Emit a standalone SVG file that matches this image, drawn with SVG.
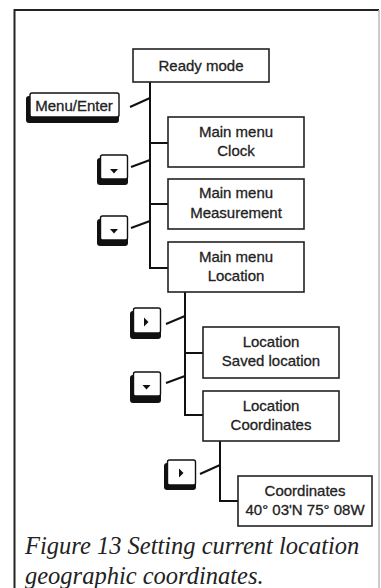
<svg xmlns="http://www.w3.org/2000/svg" width="381" height="588" viewBox="0 0 381 588">
<defs>
<style>
.box{fill:#fff;stroke:#222;stroke-width:1.6}
.t{font-family:"Liberation Sans",Arial,sans-serif;font-size:15px;fill:#222;stroke:#222;stroke-width:0.3;text-anchor:middle}
.ln{stroke:#111;stroke-width:2;fill:none}
.sh{fill:#111}
.face{fill:#fff;stroke:#111;stroke-width:1.4}
.tri{fill:#111}
.cap{font-family:"Liberation Serif","Times New Roman",serif;font-style:italic;font-size:24.5px;fill:#222}
</style>
</defs>
<rect width="381" height="588" fill="#fff"/>
<g id="frame">
<path d="M14.5,588 V10 H379" fill="none" stroke="#222" stroke-width="2"/>
<path d="M379,10 V588" fill="none" stroke="#bbb" stroke-width="1.5"/>
</g>
<g id="connectors">
<path class="ln" d="M150,82 V268 H168"/>
<path class="ln" d="M150,143 H168"/>
<path class="ln" d="M150,204 H168"/>
<path class="ln" d="M185,292 V415 H203"/>
<path class="ln" d="M185,353 H203"/>
<path class="ln" d="M220,441 V501 H238"/>
<path class="ln" d="M130,107 L150,98"/>
<path class="ln" d="M131,167 L150,160"/>
<path class="ln" d="M131,228 L150,221"/>
<path class="ln" d="M166,324 L185,316"/>
<path class="ln" d="M166,383 L185,376"/>
<path class="ln" d="M200,474 L220,465"/>
</g>
<g id="ready">
<rect class="box" x="133" y="49" width="136" height="33"/>
<text class="t" x="201" y="71">Ready mode</text>
</g>
<g id="clock">
<rect class="box" x="168" y="117" width="136" height="50"/>
<text class="t" x="236" y="137">Main menu</text>
<text class="t" x="236" y="156">Clock</text>
</g>
<g id="measurement">
<rect class="box" x="168" y="179" width="136" height="50"/>
<text class="t" x="236" y="198">Main menu</text>
<text class="t" x="236" y="218">Measurement</text>
</g>
<g id="location">
<rect class="box" x="168" y="242" width="136" height="50"/>
<text class="t" x="236" y="262">Main menu</text>
<text class="t" x="236" y="281">Location</text>
</g>
<g id="saved">
<rect class="box" x="203" y="327" width="136" height="51"/>
<text class="t" x="271" y="347">Location</text>
<text class="t" x="271" y="366">Saved location</text>
</g>
<g id="coords">
<rect class="box" x="203" y="391" width="136" height="50"/>
<text class="t" x="271" y="411">Location</text>
<text class="t" x="271" y="430">Coordinates</text>
</g>
<g id="coordvalue">
<rect class="box" x="238" y="476" width="134" height="50"/>
<text class="t" x="305" y="496">Coordinates</text>
<text class="t" x="305" y="515">40° 03'N 75° 08W</text>
</g>
<g id="btn-menu">
<rect class="sh" x="26" y="96" width="93" height="27" rx="3"/>
<rect class="face" x="30" y="93" width="89" height="24" rx="2"/>
<text class="t" x="74" y="111" style="font-size:15px">Menu/Enter</text>
</g>
<g id="btn-down1">
<rect class="sh" x="97" y="158" width="31" height="27" rx="3"/>
<rect class="face" x="100.5" y="155" width="27" height="24" rx="2"/>
<path class="tri" d="M110,169 h8 l-4,4.5 z"/>
</g>
<g id="btn-down2">
<rect class="sh" x="97" y="219" width="31" height="27" rx="3"/>
<rect class="face" x="100.5" y="216" width="27" height="24" rx="2"/>
<path class="tri" d="M110,229 h8 l-4,4.5 z"/>
</g>
<g id="btn-right1">
<rect class="sh" x="130" y="311" width="31" height="28" rx="3"/>
<rect class="face" x="133.5" y="308" width="27" height="25" rx="2"/>
<path class="tri" d="M144,317.5 v9 l4.5,-4.5 z"/>
</g>
<g id="btn-down3">
<rect class="sh" x="130" y="375" width="31" height="28" rx="3"/>
<rect class="face" x="133.5" y="372" width="27" height="24" rx="2"/>
<path class="tri" d="M142.5,385 h8 l-4,4.5 z"/>
</g>
<g id="btn-right2">
<rect class="sh" x="164" y="463" width="32" height="27" rx="3"/>
<rect class="face" x="167.5" y="460" width="28" height="25" rx="2"/>
<path class="tri" d="M179,468.5 v9 l4.5,-4.5 z"/>
</g>
<g id="caption">
<text class="cap" x="25" y="554">Figure 13 Setting current location</text>
<text class="cap" x="25" y="584">geographic coordinates.</text>
</g>
</svg>
